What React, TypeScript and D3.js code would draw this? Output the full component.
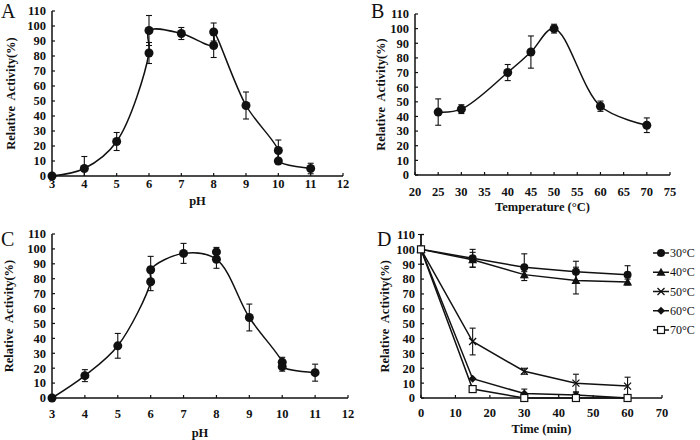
import React from "react";
import * as d3 from "d3";

// ---------- data ----------
const phX = [3, 4, 5, 6, 6, 7, 8, 8, 9, 10, 10, 11];
const phAY = [0, 5, 23, 82, 97, 95, 87, 96, 47, 17, 10, 5];
const phAErr = [0, 8, 6, 7, 10, 4, 8, 6, 9, 7, 1, 3.5];

const tempX = [25, 30, 40, 45, 50, 60, 70];
const tempY = [43, 45, 70, 84, 100, 47, 34];
const tempErr = [9, 3, 5.5, 11, 3, 3.5, 5];

const phCX = [3, 4, 5, 6, 6, 7, 8, 9, 10, 10, 11];
const phCY = [0, 15, 35, 78, 86, 97, 93, 54, 24, 21, 17];
const phCErr = [0, 4, 8.3, 6, 9, 6.7, 6, 9, 3.3, 3, 5.7];
const phCExtraX = [8];
const phCExtraY = [98];
const phCExtraErr = [3];

const timeX = [0, 15, 30, 45, 60];
const d30 = [100, 94, 88, 85, 83];
const e30 = [10, 6, 9, 7, 6];
const d40 = [100, 93, 83, 79, 78];
const e40 = [0, 5, 2, 9, 2];
const d50 = [100, 38, 18, 10, 8];
const e50 = [0, 9, 2, 6, 6];
const d60 = [100, 13, 3, 2, 0];
const e60 = [0, 0, 3, 2, 0];
const d70 = [100, 6, 0, 0, 0];
const e70 = [0, 1, 0, 0, 0];
const stabLabels = ["30°C", "40°C", "50°C", "60°C", "70°C"];
const stabMarkers = ["circleS", "triangle", "cross", "diamond", "square"];

const yTicks = d3.range(0, 111, 10);
const phTicks = d3.range(3, 13, 1);
const tempTicks = d3.range(20, 76, 5);
const timeTicks = d3.range(0, 71, 10);

const FONT = "'Liberation Serif', 'Times New Roman', serif";
const INK = "#111";

type Series = { x: number[]; y: number[]; err: number[]; marker: string; noLine?: boolean };

function Marker({ kind, cx, cy }: { kind: string; cx: number; cy: number }) {
  if (kind === "circle") return <circle cx={cx} cy={cy} r={4.5} fill={INK} />;
  if (kind === "circleS") return <circle cx={cx} cy={cy} r={4} fill={INK} />;
  if (kind === "triangle")
    return (
      <path
        d={`M${cx},${cy - 4.5}L${cx + 4.5},${cy + 3.5}L${cx - 4.5},${cy + 3.5}Z`}
        fill={INK}
      />
    );
  if (kind === "cross")
    return (
      <path
        d={`M${cx - 3.5},${cy - 3.5}L${cx + 3.5},${cy + 3.5}M${cx - 3.5},${cy + 3.5}L${cx + 3.5},${cy - 3.5}`}
        stroke={INK}
        strokeWidth={1.3}
      />
    );
  if (kind === "diamond")
    return (
      <path
        d={`M${cx},${cy - 4}L${cx + 4},${cy}L${cx},${cy + 4}L${cx - 4},${cy}Z`}
        fill={INK}
      />
    );
  if (kind === "square")
    return (
      <rect x={cx - 3.5} y={cy - 3.5} width={7} height={7} fill="#fff" stroke={INK} strokeWidth={1.2} />
    );
  return null;
}

function Panel(props: {
  left: number;
  right: number;
  top: number;
  bottom: number;
  xDomain: [number, number];
  xTicks: number[];
  series: Series[];
  smooth: boolean;
  xTitle: string;
  letter: string;
  letterX: number;
  letterY: number;
  yTitleX: number;
  xTickY: number;
  xTitleY: number;
}) {
  const { left, right, top, bottom, xDomain, xTicks, series, smooth } = props;
  const x = d3.scaleLinear().domain(xDomain).range([left, right]);
  const y = d3.scaleLinear().domain([0, 110]).range([bottom, top]);
  const line = d3
    .line<[number, number]>()
    .x((d) => x(d[0]))
    .y((d) => y(d[1]))
    .curve(smooth ? d3.curveCatmullRom.alpha(0.5) : d3.curveLinear);
  const cy = (top + bottom) / 2;
  return (
    <g>
      {/* axes */}
      <line x1={left} x2={left} y1={top} y2={bottom} stroke={INK} strokeWidth={1.5} />
      <line x1={left} x2={right} y1={bottom} y2={bottom} stroke={INK} strokeWidth={1.5} />
      {yTicks.map((t) => (
        <g key={"y" + t}>
          <line x1={left} x2={left + 3} y1={y(t)} y2={y(t)} stroke={INK} strokeWidth={1.2} />
          <text
            x={left - 6}
            y={y(t)}
            dy="0.35em"
            textAnchor="end"
            fontFamily={FONT}
            fontWeight="bold"
            fontSize={12.5}
            fill={INK}
          >
            {t}
          </text>
        </g>
      ))}
      {xTicks.map((t) => (
        <g key={"x" + t}>
          <line x1={x(t)} x2={x(t)} y1={bottom} y2={bottom - 3} stroke={INK} strokeWidth={1.2} />
          <text
            x={x(t)}
            y={props.xTickY}
            textAnchor="middle"
            fontFamily={FONT}
            fontWeight="bold"
            fontSize={12.5}
            fill={INK}
          >
            {t}
          </text>
        </g>
      ))}
      <text
        x={(left + right) / 2}
        y={props.xTitleY}
        textAnchor="middle"
        fontFamily={FONT}
        fontWeight="bold"
        fontSize={12.5}
        fill={INK}
      >
        {props.xTitle}
      </text>
      <text
        transform={`translate(${props.yTitleX},${cy}) rotate(-90)`}
        textAnchor="middle"
        dy="0.35em"
        fontFamily={FONT}
        fontWeight="bold"
        fontSize={12.5}
        fill={INK}
        style={{ whiteSpace: "pre" }}
      >
        {"Relative  Activity(%)"}
      </text>
      <text x={props.letterX} y={props.letterY} fontFamily={FONT} fontSize={20} fill={INK}>
        {props.letter}
      </text>
      {/* series */}
      {series.map((s, si) => {
        const pts: [number, number][] = s.x.map((xv, i) => [xv, s.y[i]]);
        return (
          <g key={"s" + si}>
            {!s.noLine && <path d={line(pts) || ""} fill="none" stroke={INK} strokeWidth={1.5} />}
            {pts.map((p, i) =>
              s.err[i] > 0 ? (
                <g key={"e" + i}>
                  <line
                    x1={x(p[0])}
                    x2={x(p[0])}
                    y1={y(Math.max(0, p[1] - s.err[i]))}
                    y2={y(p[1] + s.err[i])}
                    stroke={INK}
                    strokeWidth={1.1}
                  />
                  <line
                    x1={x(p[0]) - 3}
                    x2={x(p[0]) + 3}
                    y1={y(p[1] + s.err[i])}
                    y2={y(p[1] + s.err[i])}
                    stroke={INK}
                    strokeWidth={1.1}
                  />
                  {p[1] - s.err[i] > 0 && (
                    <line
                      x1={x(p[0]) - 3}
                      x2={x(p[0]) + 3}
                      y1={y(p[1] - s.err[i])}
                      y2={y(p[1] - s.err[i])}
                      stroke={INK}
                      strokeWidth={1.1}
                    />
                  )}
                </g>
              ) : null
            )}
            {pts.map((p, i) => (
              <Marker key={"m" + i} kind={s.marker} cx={x(p[0])} cy={y(p[1])} />
            ))}
          </g>
        );
      })}
    </g>
  );
}

export default function App() {
  const stab = [d30, d40, d50, d60, d70];
  const stabErr = [e30, e40, e50, e60, e70];
  const stabSeries: Series[] = stab.map((d, i) => ({
    x: timeX,
    y: d,
    err: stabErr[i],
    marker: stabMarkers[i],
  }));
  const legendY = d3.scaleLinear().domain([0, 4]).range([253, 330]);
  return (
    <svg
      width={700}
      height={440}
      style={{ position: "absolute", left: 0, top: 0, background: "#fff" }}
    >
      <rect width={700} height={440} fill="#fff" />
      <Panel
        left={52}
        right={343}
        top={11}
        bottom={176}
        xDomain={[3, 12]}
        xTicks={phTicks}
        series={[{ x: phX, y: phAY, err: phAErr, marker: "circle" }]}
        smooth={true}
        xTitle="pH"
        letter="A"
        letterX={1}
        letterY={18}
        yTitleX={11}
        xTickY={188}
        xTitleY={205}
      />
      <Panel
        left={415}
        right={670}
        top={14}
        bottom={175}
        xDomain={[20, 75]}
        xTicks={tempTicks}
        series={[{ x: tempX, y: tempY, err: tempErr, marker: "circle" }]}
        smooth={true}
        xTitle="Temperature (°C)"
        letter="B"
        letterX={371}
        letterY={18}
        yTitleX={381}
        xTickY={195.5}
        xTitleY={211}
      />
      <Panel
        left={52}
        right={348}
        top={234}
        bottom={398}
        xDomain={[3, 12]}
        xTicks={phTicks}
        series={[
          { x: phCX, y: phCY, err: phCErr, marker: "circle" },
          { x: phCExtraX, y: phCExtraY, err: phCExtraErr, marker: "circle", noLine: true },
        ]}
        smooth={true}
        xTitle="pH"
        letter="C"
        letterX={1}
        letterY={246}
        yTitleX={9}
        xTickY={418}
        xTitleY={437}
      />
      <Panel
        left={421}
        right={662}
        top={234.5}
        bottom={398}
        xDomain={[0, 70]}
        xTicks={timeTicks}
        series={stabSeries}
        smooth={false}
        xTitle="Time (min)"
        letter="D"
        letterX={377}
        letterY={246}
        yTitleX={385}
        xTickY={417}
        xTitleY={433}
      />
      {/* legend for D */}
      {stabLabels.map((lab, i) => {
        const ly = legendY(i);
        return (
          <g key={"lg" + i}>
            <line x1={653} x2={669} y1={ly} y2={ly} stroke={INK} strokeWidth={1.5} />
            <Marker kind={stabMarkers[i]} cx={661} cy={ly} />
            <text x={670} y={ly} dy="0.35em" fontFamily={FONT} fontSize={12} fill={INK}>
              {lab}
            </text>
          </g>
        );
      })}
    </svg>
  );
}
